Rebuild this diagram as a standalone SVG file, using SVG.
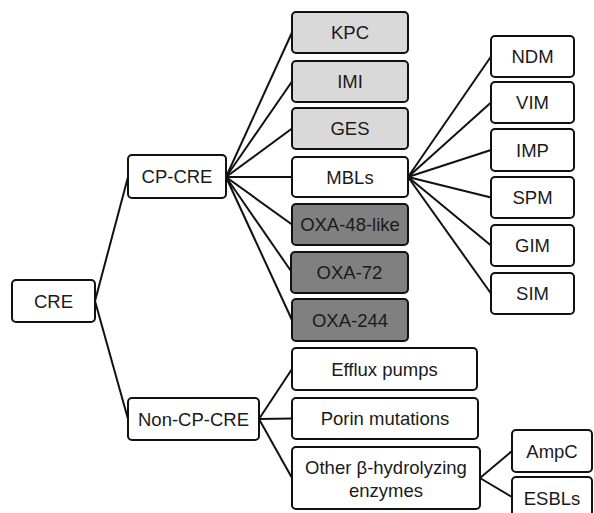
<svg xmlns="http://www.w3.org/2000/svg" width="594" height="513" viewBox="0 0 594 513">
<style>
.n rect{stroke:#111;stroke-width:2;fill:#fff}
.n rect.l{fill:#d9d9d9}
.n rect.d{fill:#808080}
text{font-family:"Liberation Sans",Arial,sans-serif;font-size:18.5px;fill:#1a1a1a;text-anchor:middle;dominant-baseline:central}
#connectors line{stroke:#111;stroke-width:2}
</style>
<rect width="594" height="513" fill="#fff"/>
<g id="connectors">
<line x1="95" y1="301" x2="128" y2="177"/>
<line x1="95" y1="301" x2="128" y2="419"/>
<line x1="226" y1="177" x2="292" y2="32.5"/>
<line x1="226" y1="177" x2="292" y2="81.5"/>
<line x1="226" y1="177" x2="292" y2="128.5"/>
<line x1="226" y1="177" x2="292" y2="177"/>
<line x1="226" y1="177" x2="292" y2="224.5"/>
<line x1="226" y1="177" x2="292" y2="272.5"/>
<line x1="226" y1="177" x2="292" y2="320"/>
<line x1="408" y1="177" x2="491" y2="56.5"/>
<line x1="408" y1="177" x2="491" y2="102.5"/>
<line x1="408" y1="177" x2="491" y2="150"/>
<line x1="408" y1="177" x2="491" y2="197.5"/>
<line x1="408" y1="177" x2="491" y2="245.5"/>
<line x1="408" y1="177" x2="491" y2="293.5"/>
<line x1="259" y1="419" x2="292" y2="369"/>
<line x1="259" y1="419" x2="292" y2="418.5"/>
<line x1="259" y1="419" x2="292" y2="478"/>
<line x1="480" y1="478" x2="512" y2="451"/>
<line x1="480" y1="478" x2="512" y2="497"/>
</g>
<g id="CRE" class="n"><rect x="12" y="280" width="83" height="42" rx="4"/><text x="53.5" y="301">CRE</text></g>
<g id="CP-CRE" class="n"><rect x="128" y="155" width="98" height="43" rx="4"/><text x="177" y="176.5">CP-CRE</text></g>
<g id="Non-CP-CRE" class="n"><rect x="128" y="398" width="131" height="42" rx="4"/><text x="193.5" y="419">Non-CP-CRE</text></g>
<g id="KPC" class="n"><rect class="l" x="292" y="12" width="116" height="41" rx="4"/><text x="350" y="32.5">KPC</text></g>
<g id="IMI" class="n"><rect class="l" x="292" y="61" width="116" height="41" rx="4"/><text x="350" y="81.5">IMI</text></g>
<g id="GES" class="n"><rect class="l" x="292" y="108" width="116" height="41" rx="4"/><text x="350" y="128.5">GES</text></g>
<g id="MBLs" class="n"><rect x="292" y="157" width="116" height="40" rx="4"/><text x="350" y="177">MBLs</text></g>
<g id="OXA-48-like" class="n"><rect class="d" x="292" y="204" width="116" height="41" rx="4"/><text x="350" y="224.5">OXA-48-like</text></g>
<g id="OXA-72" class="n"><rect class="d" x="291" y="252" width="117" height="41" rx="4"/><text x="349.5" y="272.5">OXA-72</text></g>
<g id="OXA-244" class="n"><rect class="d" x="292" y="299" width="116" height="42" rx="4"/><text x="350" y="320">OXA-244</text></g>
<g id="NDM" class="n"><rect x="491" y="36" width="83" height="41" rx="4"/><text x="532.5" y="56.5">NDM</text></g>
<g id="VIM" class="n"><rect x="491" y="82" width="83" height="41" rx="4"/><text x="532.5" y="102.5">VIM</text></g>
<g id="IMP" class="n"><rect x="491" y="129" width="83" height="42" rx="4"/><text x="532.5" y="150">IMP</text></g>
<g id="SPM" class="n"><rect x="491" y="177" width="83" height="41" rx="4"/><text x="532.5" y="197.5">SPM</text></g>
<g id="GIM" class="n"><rect x="491" y="225" width="83" height="41" rx="4"/><text x="532.5" y="245.5">GIM</text></g>
<g id="SIM" class="n"><rect x="491" y="273" width="83" height="41" rx="4"/><text x="532.5" y="293.5">SIM</text></g>
<g id="Efflux" class="n"><rect x="292" y="348" width="185" height="42" rx="4"/><text x="384.5" y="369">Efflux pumps</text></g>
<g id="Porin" class="n"><rect x="292" y="398" width="186" height="41" rx="4"/><text x="385" y="418.5">Porin mutations</text></g>
<g id="Other" class="n"><rect x="292" y="447" width="188" height="62" rx="4"/><text x="386" y="467">Other β-hydrolyzing</text><text x="386" y="490">enzymes</text></g>
<g id="AmpC" class="n"><rect x="512" y="430" width="80" height="42" rx="4"/><text x="552" y="451">AmpC</text></g>
<g id="ESBLs" class="n"><rect x="512" y="477" width="80" height="44" rx="4"/><text x="552" y="498">ESBLs</text></g>
</svg>
